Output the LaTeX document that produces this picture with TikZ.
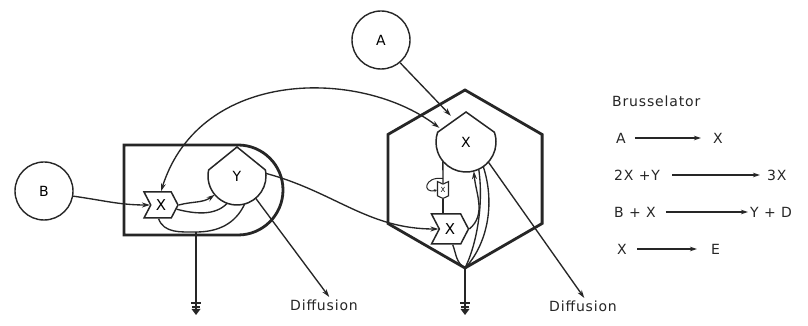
\documentclass[tikz,border=0pt]{standalone}
\usepackage{fontspec}
\setmainfont{DejaVu Sans}
\usetikzlibrary{shapes.symbols,arrows.meta,calc}
\begin{document}
\begin{tikzpicture}[x=1pt,y=1pt,
  ln/.style={line width=1.35pt,draw=black!85},
  wall/.style={line width=2.8pt,draw=black!85},
  tip/.style={-{Stealth[length=8pt,width=5pt]}},
  arr/.style={ln,tip},
  ball/.style={circle,draw=black!85,line width=1.4pt,minimum size=58pt,inner sep=0pt,font=\fontsize{14}{14}\selectfont},
  hold/.style={circle,minimum size=58pt,inner sep=0pt,font=\fontsize{14}{14}\selectfont},
  flagbox/.style={signal,signal from=west,signal to=east,signal pointer angle=125,draw=black!85,line width=1.5pt,inner sep=0pt,fill=white,font=\fontsize{15}{15}\selectfont},
  lbl/.style={inner sep=0pt,text=black!85,font=\fontsize{14}{14}\selectfont\addfontfeature{LetterSpace=6}},
  larr/.style={line width=1.2pt,draw=black!85,-{Stealth[length=7pt,width=4.5pt]}}
]
\fill[white] (0,0) rectangle (808,326);
\useasboundingbox (0,0) rectangle (808,326);

% outer circles
\node[ball] (A) at (381,286) {A};
\node[ball] (B) at (44,135) {B};

% left compartment
\draw[wall] (238,91) arc[start angle=-90,end angle=90,radius=45] -- (124,181) -- (124,91) -- cycle;
% hexagon compartment
\draw[wall] (465,236) -- (387.9,191.5) -- (387.9,102.5) -- (465,58) -- (542.1,102.5) -- (542.1,191.5) -- cycle;
\coordinate (hb) at (465,58);

% Y pool (left)
\node[hold] (Y) at (237,150) {Y};
\draw[ln,line width=1.5pt] (237,150) ++(12:29) arc[start angle=12,end angle=-192,radius=29] -- (237,179) -- cycle;
% X pool (hexagon)
\node[hold,minimum size=60pt] (Xh) at (466,184) {X};
\draw[ln,line width=1.5pt] (466,184) ++(19:30) arc[start angle=19,end angle=-199,radius=30] -- (466,214) -- cycle;

% X flags
\node[flagbox,minimum width=34pt,minimum height=26pt] (X1) at (161,121) {X};
\node[flagbox,minimum width=37pt,minimum height=30pt] (X2) at (450,97) {X};
% small element
\node[signal,signal from=north,signal to=south,signal pointer angle=130,draw=black!85,line width=1.1pt,inner sep=0pt,
      minimum width=11pt,minimum height=14pt,font=\fontsize{7}{7}\selectfont] (sm) at (443,136) {X};

% connectors, left side
\draw[arr] (B.-10) to[out=-8,in=180] (X1.west);
\draw[ln,{Stealth[length=8pt,width=5pt]}-{Stealth[length=8pt,width=5pt]}] (Xh.152) .. controls (360,258) and (200,258) .. (X1.north);
\draw[arr] (X1.east) to[out=15,in=215] (Y.220);
\draw[ln] (Y.250) .. controls (215,110) and (195,112) .. (X1.-15);
\coordinate (J1) at (196,94);
\coordinate (G1) at (196,23);
\draw[ln] (X1.-100) to[out=-70,in=180] (J1);
\draw[ln] (Y.-75) to[out=-115,in=0] (J1);
\draw[ln] (J1) -- (G1);

\node[lbl] (dif1) at (324,21) {Diffusion};
\node[lbl] (dif2) at (583,20) {Diffusion};
\draw[arr,shorten >=3pt] (Y.-50) -- ([xshift=7pt]dif1.north);
\draw[arr] (Y.5) to[out=-15,in=180] (X2.west);

% connectors, hexagon
\draw[arr] (A.-50) -- (Xh.120);
\draw[arr] (X2.east) to[out=40,in=-85] (Xh.-75);
\draw[ln] (Xh.-65) .. controls (484,120) and (476,80) .. (hb);
\draw[ln] (Xh.-55) .. controls (496,120) and (486,80) .. (hb);
\draw[ln] (X2.-80) to[out=-70,in=150] (hb);
\draw[arr,shorten >=3pt] (Xh.-42) -- ([xshift=3pt]dif2.north);
\draw[ln] (Xh.-140) -- (sm.north);
\draw[ln] (sm.south) -- (sm.south |- X2.north);
\draw[line width=1pt,draw=black!85,-{Stealth[length=3pt,width=3pt]}] ($(sm.north)+(0,5)$) .. controls (424,150) and (422,132) .. (sm.west);
\coordinate (G2) at (465,23);
\draw[ln] (hb) -- (G2);

% ground symbols
\foreach \g in {G1,G2}{
  \draw[line width=1.3pt,black!85] ($(\g)+(-5,0)$) -- ($(\g)+(5,0)$);
  \draw[line width=1.3pt,black!85] ($(\g)+(-4,-4)$) -- ($(\g)+(4,-4)$);
  \fill[black!85] ($(\g)+(-4.5,-6)$) -- ($(\g)+(4.5,-6)$) -- ($(\g)+(0,-12)$) -- cycle;
  \draw[line width=1.3pt,black!85] (\g) -- ($(\g)+(0,-6)$);
}

% legend
\node[lbl,anchor=west] (title) at (612,225) {Brusselator};
\node[lbl,anchor=west] (r1a) at (616,188) {A};
\node[lbl,anchor=west] (r1b) at (713,188) {X};
\draw[larr] ([xshift=9pt]r1a.east) -- ([xshift=-12pt]r1b.west);
\node[lbl,anchor=west] (r2a) at (614,151) {2X +Y};
\node[lbl,anchor=west] (r2b) at (767,151) {3X};
\draw[larr] ([xshift=12pt]r2a.east) -- ([xshift=-7pt]r2b.west);
\node[lbl,anchor=west] (r3a) at (614,114) {B + X};
\node[lbl,anchor=west] (r3b) at (750,114) {Y + D};
\draw[larr] ([xshift=10pt]r3a.east) -- ([xshift=-2pt]r3b.west);
\node[lbl,anchor=west] (r4a) at (617,77) {X};
\node[lbl,anchor=west] (r4b) at (711,77) {E};
\draw[larr] ([xshift=10pt]r4a.east) -- ([xshift=-14pt]r4b.west);
\end{tikzpicture}
\end{document}
